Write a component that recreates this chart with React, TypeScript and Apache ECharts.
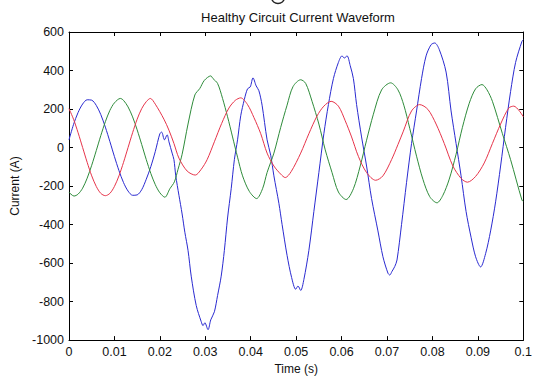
import { useEffect, useRef } from "react";
import * as echarts from "echarts";

// Time (s) and current (A) samples
const blueTime = [
  0.0, 0.001, 0.002, 0.003, 0.004, 0.005, 0.006, 0.007, 0.008, 0.009, 0.01, 0.011, 0.012, 0.013, 0.014,
  0.015, 0.016, 0.017, 0.018, 0.019, 0.02, 0.0204, 0.021, 0.0216, 0.022, 0.0227, 0.0231, 0.0235, 0.0242,
  0.0249, 0.0255, 0.0262, 0.0269, 0.028, 0.0291, 0.0295, 0.0299, 0.0306, 0.0312, 0.032, 0.0327, 0.0335,
  0.0342, 0.0349, 0.0357, 0.0364, 0.0371, 0.0378, 0.0386, 0.0393, 0.0399, 0.0405, 0.0412, 0.0418, 0.0425,
  0.0436, 0.0444, 0.0451, 0.0462, 0.0469, 0.048, 0.049, 0.0499, 0.0504, 0.051, 0.0517, 0.0528, 0.0539,
  0.055, 0.0561, 0.0571, 0.0582, 0.0593, 0.0601, 0.0606, 0.0612, 0.0619, 0.0626, 0.0633, 0.0644, 0.0655,
  0.0666, 0.068, 0.0691, 0.0702, 0.0706, 0.0711, 0.0717, 0.0722, 0.0732, 0.0743, 0.0754, 0.0765, 0.0776,
  0.0786, 0.0797, 0.0805, 0.0815, 0.083, 0.0841, 0.0852, 0.0863, 0.0874, 0.0885, 0.0895, 0.0906, 0.0917,
  0.0928, 0.0939, 0.095, 0.0961, 0.0972, 0.0983, 0.0997, 0.1,
];
const blueCurrent = [
  40, 120, 182, 226, 248, 246, 219, 171, 106, 31, -47, -120, -182, -226, -248,
  -246, -219, -165, -100, -20, 72, 80, 40, 66, 30, -29, -63, -147, -248,
  -345, -440, -534, -668, -820, -904, -925, -910, -946, -895, -853, -769, -668,
  -534, -366, -214, -63, 40, 165, 250, 305, 315, 362, 320, 295, 220,
  40, -40, -147, -290, -399, -560, -675, -736, -719, -742, -685, -534, -332,
  -130, 72, 223, 358, 442, 476, 465, 476, 425, 358, 223, 55, -96,
  -265, -433, -567, -652, -662, -643, -618, -584, -399, -181, 21, 190, 358,
  476, 534, 543, 509, 392, 190, 21, -147, -332, -466, -567, -620, -551,
  -433, -282, -96, 105, 291, 442, 551, 560,
];

const greenTime = [
  0.0, 0.0011, 0.002, 0.003, 0.004, 0.005, 0.006, 0.007, 0.008, 0.009, 0.01, 0.0113, 0.012, 0.013, 0.014,
  0.015, 0.016, 0.017, 0.018, 0.019, 0.02, 0.0211, 0.0222, 0.0232, 0.024, 0.0249, 0.0262, 0.0277, 0.0288,
  0.0298, 0.0312, 0.0317, 0.0327, 0.0338, 0.0349, 0.036, 0.0371, 0.0382, 0.0397, 0.0413, 0.0426, 0.0436,
  0.0451, 0.0466, 0.048, 0.0493, 0.051, 0.0521, 0.0535, 0.055, 0.0564, 0.0579, 0.0593, 0.061, 0.0626,
  0.0641, 0.0655, 0.067, 0.0688, 0.0708, 0.0724, 0.0737, 0.075, 0.0765, 0.0779, 0.0794, 0.081, 0.0823,
  0.0837, 0.0852, 0.0866, 0.0881, 0.0895, 0.0909, 0.092, 0.0932, 0.0954, 0.0972, 0.0997, 0.1,
];
const greenCurrent = [
  -232, -252, -242, -211, -159, -92, -16, 62, 134, 193, 232, 255, 245, 211, 159,
  92, 16, -62, -134, -193, -235, -258, -214, -178, -113, -35, 122, 273, 307,
  349, 372, 358, 333, 255, 160, 55, -50, -147, -228, -265, -214, -130,
  -29, 105, 220, 316, 352, 333, 240, 122, -12, -130, -231, -270, -214,
  -96, 38, 173, 299, 336, 300, 220, 100, -45, -165, -255, -287, -248,
  -164, -35, 105, 230, 305, 327, 300, 240, 72, -63, -273, -280,
];

const redTime = [
  0.0, 0.001, 0.002, 0.003, 0.004, 0.005, 0.006, 0.007, 0.008, 0.009, 0.01, 0.011, 0.012, 0.013, 0.014,
  0.015, 0.016, 0.017, 0.0179, 0.019, 0.0209, 0.022, 0.0231, 0.0242, 0.026, 0.0278, 0.0291, 0.0304, 0.032,
  0.0336, 0.0352, 0.0366, 0.0378, 0.0393, 0.0407, 0.0422, 0.0436, 0.0451, 0.0466, 0.0476, 0.0489, 0.051,
  0.0528, 0.0546, 0.0561, 0.0577, 0.0593, 0.0608, 0.0622, 0.0637, 0.0655, 0.0675, 0.0691, 0.071, 0.0724,
  0.0736, 0.0754, 0.0772, 0.079, 0.0808, 0.0826, 0.0845, 0.0863, 0.0877, 0.0895, 0.0914, 0.0932, 0.095,
  0.0968, 0.0979, 0.1,
];
const redCurrent = [
  202, 147, 77, 0, -77, -147, -202, -238, -250, -238, -202, -147, -77, 0, 77,
  147, 202, 238, 255, 225, 147, 90, 21, -55, -122, -143, -113, -63, 30,
  125, 205, 245, 258, 223, 156, 72, -29, -96, -138, -156, -125, -29,
  72, 164, 215, 240, 215, 139, 55, -46, -130, -170, -147, -63, 15,
  85, 190, 223, 198, 122, 21, -96, -160, -180, -150, -80, 21, 122,
  205, 215, 160,
];

const TITLE = "Healthy Circuit Current Waveform";
const X_NAME = "Time (s)";
const Y_NAME = "Current (A)";
const X_MIN = 0;
const X_MAX = 0.1;
const X_STEP = 0.01;
const Y_MIN = -1000;
const Y_MAX = 600;
const Y_STEP = 200;

const FONT = "'Liberation Sans', Arial, Helvetica, sans-serif";

function pairs(t: number[], v: number[]) {
  return t.map((x, i) => [x, v[i]]);
}

export default function App() {
  const ref = useRef<HTMLDivElement>(null);
  useEffect(() => {
    if (!ref.current) return;
    const chart = echarts.init(ref.current, undefined, { renderer: "svg" });
    const axisLine = { show: true, onZero: false, lineStyle: { color: "#000", width: 1 } };
    const tick = { show: true, inside: true, length: 4, lineStyle: { color: "#000", width: 1 } };
    const labelStyle = { color: "#111", fontFamily: FONT, fontSize: 12.5 };
    chart.setOption({
      animation: false,
      backgroundColor: "#fff",
      grid: { left: 69, right: 7, top: 32, bottom: 30, containLabel: false },
      graphic: [
        {
          type: "text",
          x: 298,
          y: 17.5,
          style: {
            text: TITLE,
            fill: "#111",
            font: `13px ${FONT}`,
            align: "center",
            verticalAlign: "middle",
          },
        },
        {
          // tail of a glyph cut off at the top edge of the reference image
          type: "arc",
          shape: { cx: 278, cy: -3, r: 6.5, startAngle: 0.15, endAngle: Math.PI - 0.15, clockwise: true },
          style: { stroke: "#222", lineWidth: 1.6, fill: "none" },
        },
      ],
      xAxis: [
        {
          type: "value",
          min: X_MIN,
          max: X_MAX,
          interval: X_STEP,
          position: "bottom",
          name: X_NAME,
          nameLocation: "middle",
          nameGap: 22,
          nameTextStyle: { color: "#111", fontFamily: FONT, fontSize: 12 },
          axisLine,
          axisTick: tick,
          splitLine: { show: false },
          axisLabel: {
            ...labelStyle,
            margin: 5,
            formatter: (v: number) => String(parseFloat(v.toFixed(2))),
          },
        },
        {
          type: "value",
          min: X_MIN,
          max: X_MAX,
          interval: X_STEP,
          position: "top",
          axisLine,
          axisTick: tick,
          splitLine: { show: false },
          axisLabel: { show: false },
        },
      ],
      yAxis: [
        {
          type: "value",
          min: Y_MIN,
          max: Y_MAX,
          interval: Y_STEP,
          position: "left",
          name: Y_NAME,
          nameLocation: "middle",
          nameGap: 46,
          nameRotate: 90,
          nameTextStyle: { color: "#111", fontFamily: FONT, fontSize: 12 },
          axisLine,
          axisTick: tick,
          splitLine: { show: false },
          axisLabel: {
            ...labelStyle,
            margin: 5,
            formatter: (v: number) => String(Math.round(v)),
          },
        },
        {
          type: "value",
          min: Y_MIN,
          max: Y_MAX,
          interval: Y_STEP,
          position: "right",
          axisLine,
          axisTick: tick,
          splitLine: { show: false },
          axisLabel: { show: false },
        },
      ],
      series: [
        {
          type: "line",
          data: pairs(blueTime, blueCurrent),
          showSymbol: false,
          symbol: "none",
          lineStyle: { color: "#2a2ad0", width: 1 },
          smooth: 0.3,
        },
        {
          type: "line",
          data: pairs(greenTime, greenCurrent),
          showSymbol: false,
          symbol: "none",
          lineStyle: { color: "#2e8b3a", width: 1 },
          smooth: 0.3,
        },
        {
          type: "line",
          data: pairs(redTime, redCurrent),
          showSymbol: false,
          symbol: "none",
          lineStyle: { color: "#e6344a", width: 1 },
          smooth: 0.3,
        },
      ],
    });
    return () => chart.dispose();
  }, []);
  return (
    <div
      ref={ref}
      style={{ position: "fixed", left: 0, top: 0, width: 535, height: 380 }}
    />
  );
}
